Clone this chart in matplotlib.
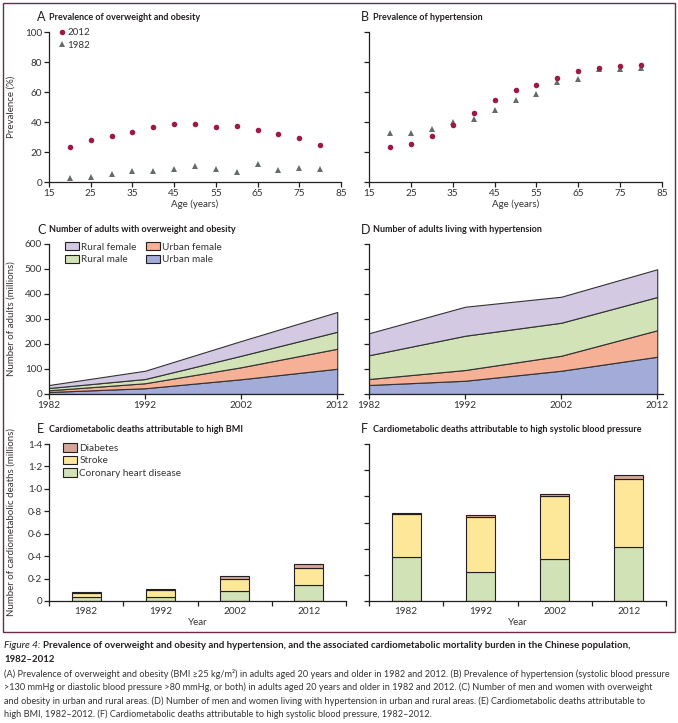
import numpy as np
import matplotlib
matplotlib.use('Agg')
import matplotlib.pyplot as plt
from matplotlib.patches import Rectangle, Patch
from matplotlib.lines import Line2D
from matplotlib.ticker import FuncFormatter

plt.rcParams['font.family'] = ['Lato', 'DejaVu Sans']
plt.rcParams['font.size'] = 7

# --- data ---
ages = [20, 25, 30, 35, 40, 45, 50, 55, 60, 65, 70, 75, 80]
ow_2012 = [23.1, 28.2, 30.4, 33.1, 36.4, 38.9, 38.9, 36.7, 37.3, 34.9, 32.0, 29.3, 24.7]
ow_1982 = [2.9, 3.6, 5.6, 7.1, 7.6, 8.4, 10.4, 8.4, 6.7, 12.0, 8.2, 9.3, 8.7]
ht_2012 = [23.3, 25.1, 30.9, 38.0, 45.8, 54.9, 61.3, 64.4, 69.3, 74.2, 76.0, 77.3, 78.2]
ht_1982 = [32.7, 32.7, 35.3, 39.8, 42.2, 48.2, 54.4, 58.7, 66.7, 68.9, 75.3, 75.3, 76.2]

years = [1982, 1992, 2002, 2012]
# number of adults (millions), per group (not cumulative)
ow_urban_male = [8, 23, 59, 101]
ow_urban_female = [7, 20, 48, 80]
ow_rural_male = [9, 17, 46, 68]
ow_rural_female = [12, 33, 59, 79]
ht_urban_male = [36, 53, 93, 149]
ht_urban_female = [24, 43, 60, 106]
ht_rural_male = [95, 137, 132, 133]
ht_rural_female = [88, 116, 104, 111]

# deaths (millions), per cause
bmi_chd = [0.039, 0.036, 0.086, 0.140]
bmi_stroke = [0.032, 0.065, 0.111, 0.152]
bmi_diabetes = [0.009, 0.009, 0.026, 0.039]
sbp_chd = [0.334, 0.220, 0.319, 0.411]
sbp_stroke = [0.330, 0.421, 0.483, 0.521]
sbp_diabetes = [0.007, 0.018, 0.015, 0.030]

c_2012 = '#9b1b45'
c_1982 = '#646b6c'
c_um = '#a3acd8'
c_uf = '#f5b095'
c_rm = '#d2e3b8'
c_rf = '#d3c9e3'
c_chd = '#d0e2b6'
c_stroke = '#fde89a'
c_diab = '#d6a59a'
ink = '#231f20'

W, H = 678, 723
fig = plt.figure(figsize=(W / 100, H / 100), dpi=100)


def fx(x):
    return x / W


def fy(y):
    return 1 - y / H


def make_ax(x0, x1, y0, y1):
    ax = fig.add_axes([fx(x0), fy(y1), fx(x1) - fx(x0), (y1 - y0) / H])
    for s in ['top', 'right']:
        ax.spines[s].set_visible(False)
    for s in ['left', 'bottom']:
        ax.spines[s].set_color(ink)
        ax.spines[s].set_linewidth(0.9)
    ax.tick_params(direction='out', length=3.5, width=0.9, color=ink,
                   labelsize=7.2, labelcolor='#333333', pad=1.5)
    ax.set_facecolor('none')
    return ax


def title(x, y, letter, text):
    fig.text(fx(x), fy(y), letter, fontsize=9, color=ink, va='center')
    fig.text(fx(x + 12), fy(y), text, fontsize=6.5, fontweight='bold', color=ink, va='center')


# --- A and B: prevalence scatter ---
axA = make_ax(49, 341, 32, 182)
axB = make_ax(369, 662, 32, 182)
for ax, s12, s82 in [(axA, ow_2012, ow_1982), (axB, ht_2012, ht_1982)]:
    ax.plot(ages, s82, '^', color=c_1982, ms=4.2, mew=0, clip_on=False)
    ax.plot(ages, s12, 'o', color=c_2012, ms=4, mew=0, clip_on=False)
    ax.set_xlim(15, 85)
    ax.set_ylim(0, 100)
    ax.set_xticks(range(15, 86, 10))
    ax.set_yticks(range(0, 101, 20))
    ax.set_xlabel('Age (years)', fontsize=7, color='#333333', labelpad=1)
axA.set_ylabel('Prevalence (%)', fontsize=7, color='#333333')
axA.yaxis.set_label_coords(-0.113, 0.5)
axB.tick_params(axis='y', labelleft=False)
leg_a = [Line2D([], [], ls='none', marker='o', color=c_2012, ms=4, mew=0, label='2012'),
         Line2D([], [], ls='none', marker='^', color=c_1982, ms=4.2, mew=0, label='1982')]
axA.legend(handles=leg_a, loc='upper left', bbox_to_anchor=(0.02, 1.05), frameon=False,
           fontsize=7, handlelength=0.6, handletextpad=0.3, labelspacing=0.35,
           borderaxespad=0, labelcolor='#333333')
title(37, 17, 'A', 'Prevalence of overweight and obesity')
title(361, 17, 'B', 'Prevalence of hypertension')

# --- C and D: stacked areas ---
axC = make_ax(49, 343, 244, 394)
axD = make_ax(369, 663, 244, 394)
for ax, groups in [(axC, [ow_urban_male, ow_urban_female, ow_rural_male, ow_rural_female]),
                   (axD, [ht_urban_male, ht_urban_female, ht_rural_male, ht_rural_female])]:
    polys = ax.stackplot(years, *groups, colors=[c_um, c_uf, c_rm, c_rf],
                         edgecolor='#333333', linewidth=0.8)
    ax.set_xlim(1982, 2012.6)
    ax.set_ylim(0, 600)
    ax.set_xticks(years)
    ax.set_yticks(range(0, 601, 100))
axC.set_ylabel('Number of adults (millions)', fontsize=7, color='#333333')
axC.yaxis.set_label_coords(-0.113, 0.5)
axD.tick_params(axis='y', labelleft=False)
leg_c = [Patch(fc=c_rf, ec=ink, lw=0.8, label='Rural female'),
         Patch(fc=c_rm, ec=ink, lw=0.8, label='Rural male'),
         Patch(fc=c_uf, ec=ink, lw=0.8, label='Urban female'),
         Patch(fc=c_um, ec=ink, lw=0.8, label='Urban male')]
axC.legend(handles=leg_c, ncol=2, loc='upper left', bbox_to_anchor=(0.04, 1.04), frameon=False,
           fontsize=7.2, handlelength=1.4, handleheight=0.9, handletextpad=0.2,
           labelspacing=0.3, columnspacing=1.0, borderaxespad=0, labelcolor='#333333')
title(37, 230, 'C', 'Number of adults with overweight and obesity')
title(361, 230, 'D', 'Number of adults living with hypertension')

# --- E and F: stacked bars ---
axE = make_ax(49, 346, 444, 601)
axF = make_ax(369, 666, 444, 601)
pos = np.arange(1, len(years) + 1)
for ax, chd, stroke, diab in [(axE, bmi_chd, bmi_stroke, bmi_diabetes),
                              (axF, sbp_chd, sbp_stroke, sbp_diabetes)]:
    chd = np.array(chd)
    stroke = np.array(stroke)
    diab = np.array(diab)
    ax.bar(pos, chd, width=0.39, color=c_chd, edgecolor=ink, lw=0.8, label='Coronary heart disease')
    ax.bar(pos, stroke, bottom=chd, width=0.39, color=c_stroke, edgecolor=ink, lw=0.8, label='Stroke')
    ax.bar(pos, diab, bottom=chd + stroke, width=0.39, color=c_diab, edgecolor=ink, lw=0.8, label='Diabetes')
    ax.set_xlim(0.5, 4.5)
    ax.set_xticks(np.arange(0.5, 4.6, 1.0))
    ax.set_xticks(pos, minor=True)
    ax.set_xticklabels([''] * 5)
    ax.set_xticklabels([str(y) for y in years], minor=True)
    ax.tick_params(axis='x', which='minor', length=0, labelsize=7.2, labelcolor='#333333', pad=4)
    ax.set_xlabel('Year', fontsize=7, color='#333333', labelpad=2)
axE.set_ylim(0, 1.4)
axE.set_yticks(np.arange(0, 1.41, 0.2))
axE.yaxis.set_major_formatter(FuncFormatter(lambda v, p: '0' if v == 0 else f'{v:.1f}'.replace('.', '\u00b7')))
axE.set_ylabel('Number of cardiometabolic deaths (millions)', fontsize=7, color='#333333')
axE.yaxis.set_label_coords(-0.114, 0.5)
axF.set_ylim(0, 1.2)
axF.set_yticks(np.arange(0, 1.21, 0.2))
axF.tick_params(axis='y', labelleft=False)
h, l = axE.get_legend_handles_labels()
axE.legend(h[::-1], l[::-1], loc='upper left', bbox_to_anchor=(0.035, 1.03), frameon=False,
           fontsize=7.2, handlelength=1.4, handleheight=0.9, handletextpad=0.2,
           labelspacing=0.3, borderaxespad=0, labelcolor='#333333')
title(37, 429, 'E', 'Cardiometabolic deaths attributable to high BMI')
title(361, 429, 'F', 'Cardiometabolic deaths attributable to high systolic blood pressure')

# border box
fig.add_artist(Rectangle((fx(3), fy(632)), fx(672), 629 / H, transform=fig.transFigure,
                         fill=False, ec='#6b2a4f', lw=1.0))

# --- caption ---
cap_title = ('Prevalence of overweight and obesity and hypertension, and the associated '
             'cardiometabolic mortality burden in the Chinese population,')
body = ['(A) Prevalence of overweight and obesity (BMI \u226525 kg/m\u00b2) in adults aged 20 years and older in 1982 and 2012. (B) Prevalence of hypertension (systolic blood pressure',
        '>130 mmHg or diastolic blood pressure >80 mmHg, or both) in adults aged 20 years and older in 1982 and 2012. (C) Number of men and women with overweight',
        'and obesity in urban and rural areas. (D) Number of men and women living with hypertension in urban and rural areas. (E) Cardiometabolic deaths attributable to',
        'high BMI, 1982\u20132012. (F) Cardiometabolic deaths attributable to high systolic blood pressure, 1982\u20132012.']

t0 = fig.text(fx(4), fy(646), 'Figure 4:', fontsize=7.2, style='italic', color=ink, va='center')
r = fig.canvas.get_renderer()
bb = t0.get_window_extent(renderer=r)
fig.text(bb.x1 / W + fx(3), fy(646), cap_title, fontsize=6.9, fontweight='bold', color=ink, va='center')
fig.text(fx(4), fy(660), '1982\u20132012', fontsize=6.9, fontweight='bold', color=ink, va='center')
for i, line in enumerate(body):
    fig.text(fx(4), fy(674 + i * 13.5), line, fontsize=6.6, color='#333333', va='center')

fig.savefig('out.png', dpi=100)
